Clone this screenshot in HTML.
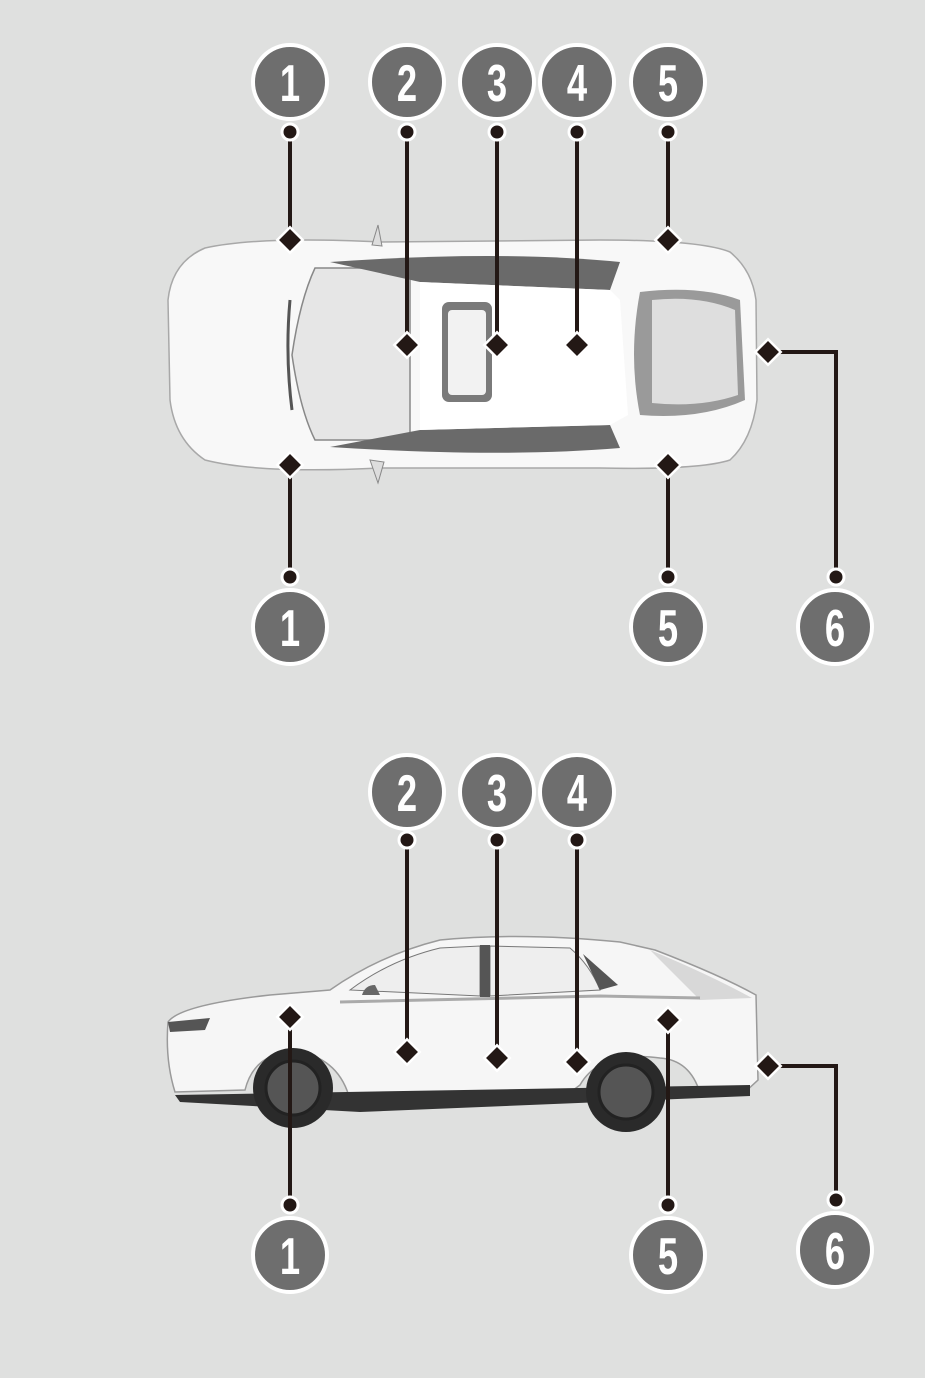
<!DOCTYPE html>
<html><head><meta charset="utf-8"><style>
html,body{margin:0;padding:0;background:#dfe0df;}
svg{display:block}
text{font-family:"Liberation Sans",sans-serif;font-weight:bold;fill:#fff;text-anchor:middle}
</style></head><body>
<svg width="925" height="1378" viewBox="0 0 925 1378" xmlns="http://www.w3.org/2000/svg">
<rect width="925" height="1378" fill="#dfe0df"/>
<defs>
<g id="b"><circle r="37" fill="#6e6e6e" stroke="#fff" stroke-width="4"/></g>
<g id="d"><rect x="-9" y="-9" width="18" height="18" transform="rotate(45)" fill="#231815" stroke="#fff" stroke-width="2.5"/></g>
<g id="p"><circle r="8" fill="#231815" stroke="#fff" stroke-width="3"/></g>
</defs>

<!-- TOP VIEW CAR -->
<g>
<path d="M205,248 Q260,236 380,242 L600,240 Q700,240 730,252 Q752,270 756,300 L757,400 Q752,440 730,460 Q700,470 600,468 L380,468 Q260,474 205,460 Q175,440 170,400 L168,300 Q172,262 205,248 Z" fill="#f8f8f8" stroke="#a8a8a8" stroke-width="1.5"/>
<path d="M315,268 Q300,300 292,355 Q300,410 315,440 L410,440 L410,268 Z" fill="#e6e6e6" stroke="#888" stroke-width="1.5"/>
<path d="M290,300 Q285,355 292,410" fill="none" stroke="#555" stroke-width="3"/>
<path d="M330,262 L420,282 L610,290 L620,262 Q500,250 330,262 Z" fill="#6a6a6a"/>
<path d="M330,447 L420,430 L610,425 L620,448 Q500,458 330,447 Z" fill="#6a6a6a"/>
<path d="M420,282 L610,290 L620,300 L628,415 L610,425 L420,430 Z" fill="#fff"/>
<rect x="442" y="302" width="50" height="100" rx="7" fill="#7a7a7a"/>
<rect x="448" y="310" width="38" height="85" rx="4" fill="#f2f2f2"/>
<path d="M640,292 Q700,285 740,300 L745,400 Q700,420 640,415 Q628,355 640,292 Z" fill="#9a9a9a"/>
<path d="M652,300 Q700,295 735,310 L738,395 Q700,408 652,403 Z" fill="#dedede"/>
<path d="M378,225 L372,245 L382,246 Z" fill="#ddd" stroke="#888"/>
<path d="M370,460 L378,483 L384,462 Z" fill="#ddd" stroke="#888"/>
</g>

<!-- SIDE VIEW CAR -->
<g>
<path d="M168,1022 Q180,1005 270,995 L330,990 Q380,955 440,940 Q520,932 620,942 L655,950 Q720,975 756,995 L758,1080 L745,1092 L700,1093 Q690,1060 660,1058 Q600,1050 580,1085 L560,1100 L350,1100 Q340,1060 300,1052 Q255,1050 245,1090 L175,1092 Q165,1060 168,1022 Z" fill="#f6f6f6" stroke="#9a9a9a" stroke-width="1.5"/>
<path d="M350,990 Q390,960 440,948 L480,946 L480,996 Z" fill="#eee" stroke="#777"/>
<path d="M490,946 L570,948 Q590,965 600,990 L490,996 Z" fill="#eee" stroke="#777"/>
<rect x="480" y="945" width="10" height="52" fill="#555"/>
<path d="M583,954 L618,985 L600,990 Z" fill="#555"/>
<path d="M650,950 Q710,975 752,998 L700,1000 Z" fill="#d8d8d8"/>
<path d="M340,1002 L600,996 L700,998" fill="none" stroke="#aaa" stroke-width="3"/>
<path d="M175,1095 L750,1085 L750,1096 L360,1112 L180,1102 Z" fill="#333"/>
<circle cx="293" cy="1088" r="40" fill="#2a2a2a"/>
<circle cx="293" cy="1088" r="27" fill="#555" stroke="#222" stroke-width="3"/>
<circle cx="626" cy="1092" r="40" fill="#2a2a2a"/>
<circle cx="626" cy="1092" r="27" fill="#555" stroke="#222" stroke-width="3"/>
<path d="M168,1022 L210,1018 L205,1030 L170,1032 Z" fill="#555"/>
<path d="M375,985 Q365,985 362,995 L380,995 Z" fill="#666"/>
</g>

<!-- CONNECTORS -->
<g stroke="#231815" stroke-width="4" fill="none">
<line x1="290" y1="132" x2="290" y2="240"/>
<line x1="407" y1="132" x2="407" y2="345"/>
<line x1="497" y1="132" x2="497" y2="345"/>
<line x1="577" y1="132" x2="577" y2="345"/>
<line x1="668" y1="132" x2="668" y2="240"/>
<line x1="290" y1="465" x2="290" y2="577"/>
<line x1="668" y1="465" x2="668" y2="577"/>
<polyline points="768,352 836,352 836,577"/>
<line x1="407" y1="840" x2="407" y2="1052"/>
<line x1="497" y1="840" x2="497" y2="1058"/>
<line x1="577" y1="840" x2="577" y2="1062"/>
<line x1="290" y1="1017" x2="290" y2="1205"/>
<line x1="668" y1="1020" x2="668" y2="1205"/>
<polyline points="768,1066 836,1066 836,1200"/>
</g>
<g>
<use href="#d" x="290" y="240"/><use href="#d" x="407" y="345"/><use href="#d" x="497" y="345"/>
<use href="#d" x="577" y="345"/><use href="#d" x="668" y="240"/><use href="#d" x="290" y="465"/>
<use href="#d" x="668" y="465"/><use href="#d" x="768" y="352"/>
<use href="#d" x="407" y="1052"/><use href="#d" x="497" y="1058"/><use href="#d" x="577" y="1062"/>
<use href="#d" x="290" y="1017"/><use href="#d" x="668" y="1020"/><use href="#d" x="768" y="1066"/>
<use href="#p" x="290" y="132"/><use href="#p" x="407" y="132"/><use href="#p" x="497" y="132"/>
<use href="#p" x="577" y="132"/><use href="#p" x="668" y="132"/>
<use href="#p" x="290" y="577"/><use href="#p" x="668" y="577"/><use href="#p" x="836" y="577"/>
<use href="#p" x="407" y="840"/><use href="#p" x="497" y="840"/><use href="#p" x="577" y="840"/>
<use href="#p" x="290" y="1205"/><use href="#p" x="668" y="1205"/><use href="#p" x="836" y="1200"/>
</g>

<!-- BADGES -->
<g>
<use href="#b" x="290" y="82"/><use href="#b" x="407" y="82"/><use href="#b" x="497" y="82"/>
<use href="#b" x="577" y="82"/><use href="#b" x="668" y="82"/>
<use href="#b" x="290" y="627"/><use href="#b" x="668" y="627"/><use href="#b" x="835" y="627"/>
<use href="#b" x="407" y="792"/><use href="#b" x="497" y="792"/><use href="#b" x="577" y="792"/>
<use href="#b" x="290" y="1255"/><use href="#b" x="668" y="1255"/><use href="#b" x="835" y="1250"/>
</g>
<g font-size="52" transform="scale(0.7,1)">
<text x="414.3" y="101">1</text>
<text x="581.4" y="101">2</text>
<text x="710" y="101">3</text>
<text x="824.3" y="101">4</text>
<text x="954.3" y="101">5</text>
<text x="414.3" y="646">1</text>
<text x="954.3" y="646">5</text>
<text x="1192.9" y="646">6</text>
<text x="581.4" y="811">2</text>
<text x="710" y="811">3</text>
<text x="824.3" y="811">4</text>
<text x="414.3" y="1274">1</text>
<text x="954.3" y="1274">5</text>
<text x="1192.9" y="1269">6</text>
</g>
</svg>
</body></html>
